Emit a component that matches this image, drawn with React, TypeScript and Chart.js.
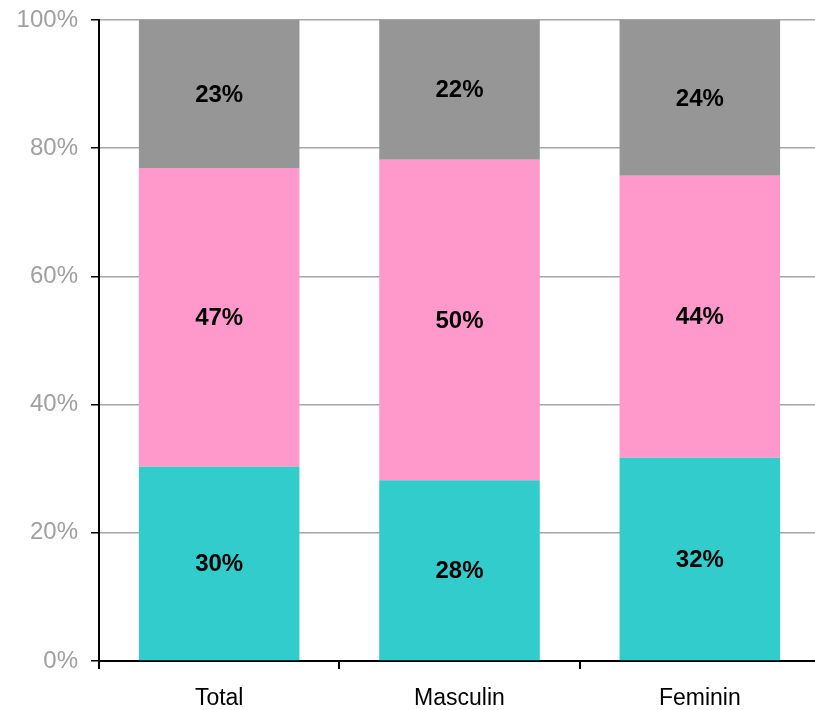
import React, { useEffect, useRef } from "react";
import { Chart, registerables } from "chart.js";

Chart.register(...registerables);

const categories = ["Total", "Masculin", "Feminin"];
const seriesBottom = [30.3, 28.2, 31.7];
const seriesMiddle = [46.6, 50.0, 44.0];
const seriesTop = [23.1, 21.8, 24.3];
const labelsBottom = ["30%", "28%", "32%"];
const labelsMiddle = ["47%", "50%", "44%"];
const labelsTop = ["23%", "22%", "24%"];
const yTicks = [0, 20, 40, 60, 80, 100];

const FONT = "'Liberation Sans', Arial, sans-serif";

const labelPlugin = {
  id: "segLabels",
  afterDatasetsDraw(chart: any) {
    const ctx = chart.ctx;
    const all = [labelsBottom, labelsMiddle, labelsTop];
    ctx.save();
    ctx.font = "bold 24px " + FONT;
    ctx.fillStyle = "#000";
    ctx.textAlign = "center";
    ctx.textBaseline = "middle";
    chart.data.datasets.forEach((ds: any, di: number) => {
      const meta = chart.getDatasetMeta(di);
      meta.data.forEach((bar: any, i: number) => {
        const y = (bar.y + bar.base) / 2;
        ctx.fillText(all[di][i], bar.x, y + 1);
      });
    });
    ctx.restore();
  },
};

export default function App() {
  const ref = useRef<HTMLCanvasElement>(null);
  useEffect(() => {
    const chart = new Chart(ref.current!, {
      type: "bar",
      data: {
        labels: categories,
        datasets: [
          { data: seriesBottom, backgroundColor: "#33cccc" },
          { data: seriesMiddle, backgroundColor: "#ff99cc" },
          { data: seriesTop, backgroundColor: "#969696" },
        ],
      },
      options: {
        animation: false,
        responsive: false,
        maintainAspectRatio: false,
        layout: { padding: { top: 20, right: 0, bottom: 0, left: 0 } },
        datasets: { bar: { categoryPercentage: 1, barPercentage: 0.668 } } as any,
        plugins: { legend: { display: false }, tooltip: { enabled: false } },
        scales: {
          x: {
            stacked: true,
            afterFit: (s: any) => { s.height = 49; s.paddingLeft = 0; s.paddingRight = 0; },
            border: { color: "#000", width: 2 },
            grid: { drawOnChartArea: false, tickColor: "#000", tickLength: 8, lineWidth: 2, offset: true },
            ticks: {
              color: "#000",
              padding: 16,
              font: { family: FONT, size: 23 },
            },
          },
          y: {
            stacked: true,
            min: 0,
            max: 100,
            afterFit: (s: any) => { s.width = 99; s.paddingTop = 0; s.paddingBottom = 0; },
            afterBuildTicks: (s: any) => { s.ticks = yTicks.map((v) => ({ value: v })); },
            border: { color: "#000", width: 2 },
            grid: { color: "#a6a6a6", lineWidth: 1.5, tickColor: "#000", tickLength: 8 },
            ticks: {
              color: "#a0a0a0",
              padding: 13,
              font: { family: FONT, size: 24 },
              callback: (v: any) => v + "%",
            },
          },
        },
      },
      plugins: [labelPlugin],
    });
    return () => chart.destroy();
  }, []);
  return (
    <div style={{ position: "absolute", left: 0, top: 0, width: 815, height: 710, overflow: "hidden", background: "#fff" }}>
      <canvas ref={ref} width={820} height={710} style={{ display: "block" }} />
    </div>
  );
}
